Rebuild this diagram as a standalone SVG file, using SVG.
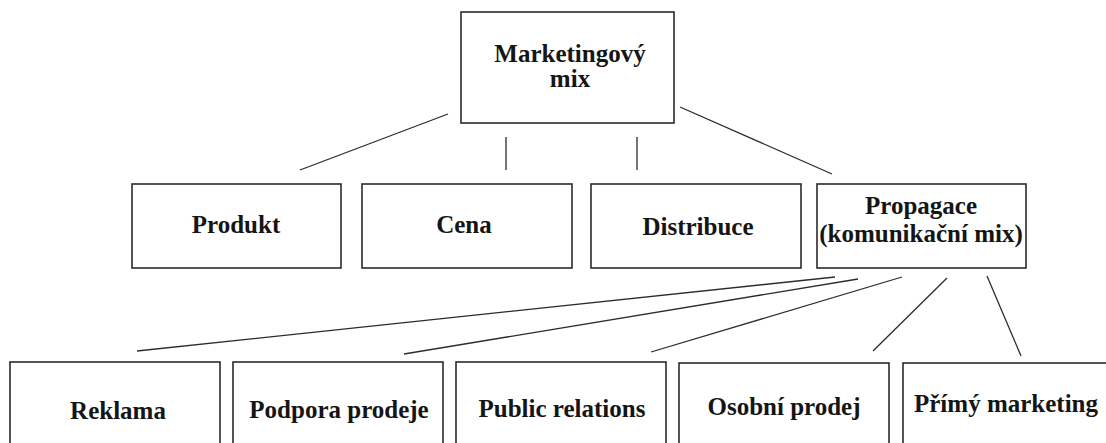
<svg xmlns="http://www.w3.org/2000/svg" width="1106" height="443" viewBox="0 0 1106 443">
<style>
.box{fill:#fff;stroke:#2b2b2b;stroke-width:1.6}
.lbl{font-family:"Liberation Serif","Times New Roman",serif;font-weight:bold;font-size:25px;fill:#151515;text-anchor:middle}
.conn line{stroke:#2b2b2b;stroke-width:1.3}
</style>
<rect width="1106" height="443" fill="#fff"/>
<g class="conn" id="connectors">
<line x1="300" y1="170" x2="448" y2="114"/>
<line x1="506" y1="137" x2="506" y2="170"/>
<line x1="637" y1="137" x2="637" y2="170"/>
<line x1="680" y1="107" x2="832" y2="174"/>
<line x1="835" y1="277" x2="137" y2="351"/>
<line x1="858" y1="279" x2="404" y2="354"/>
<line x1="902" y1="277" x2="651" y2="352"/>
<line x1="947" y1="278" x2="873" y2="351"/>
<line x1="987" y1="276" x2="1021" y2="356"/>
</g>
<g id="marketingovy-mix">
<rect class="box" x="461" y="12" width="213" height="111"/>
<text class="lbl" x="570" y="62">Marketingový</text>
<text class="lbl" x="570" y="87">mix</text>
</g>
<g id="produkt">
<rect class="box" x="132" y="184" width="209" height="84"/>
<text class="lbl" x="236" y="233">Produkt</text>
</g>
<g id="cena">
<rect class="box" x="362" y="184" width="210" height="84"/>
<text class="lbl" x="464" y="233">Cena</text>
</g>
<g id="distribuce">
<rect class="box" x="591" y="184" width="210" height="84"/>
<text class="lbl" x="698" y="235">Distribuce</text>
</g>
<g id="propagace">
<rect class="box" x="817" y="184" width="209" height="84"/>
<text class="lbl" x="921" y="214">Propagace</text>
<text class="lbl" x="921" y="242">(komunikační mix)</text>
</g>
<g id="reklama">
<rect class="box" x="10" y="362" width="210" height="100"/>
<text class="lbl" x="118" y="419">Reklama</text>
</g>
<g id="podpora-prodeje">
<rect class="box" x="233" y="362" width="210" height="100"/>
<text class="lbl" x="339" y="418">Podpora prodeje</text>
</g>
<g id="public-relations">
<rect class="box" x="456" y="362" width="210" height="100"/>
<text class="lbl" x="562" y="417">Public relations</text>
</g>
<g id="osobni-prodej">
<rect class="box" x="679" y="363" width="210" height="100"/>
<text class="lbl" x="784" y="415">Osobní prodej</text>
</g>
<g id="primy-marketing">
<rect class="box" x="903" y="363" width="210" height="100"/>
<text class="lbl" x="1006" y="412">Přímý marketing</text>
</g>
</svg>
